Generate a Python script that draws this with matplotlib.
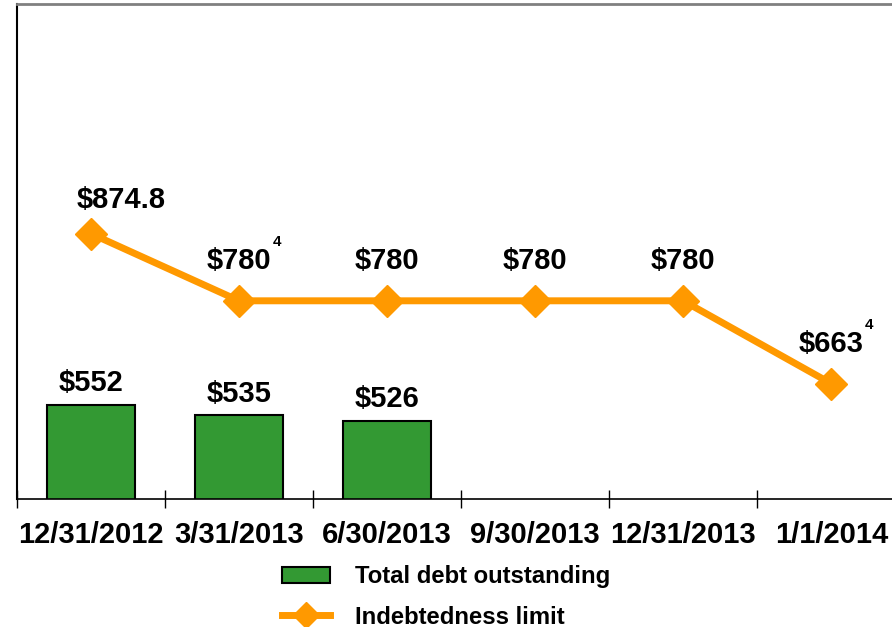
import matplotlib
matplotlib.use("Agg")
import matplotlib.pyplot as plt
from matplotlib.lines import Line2D
from matplotlib.patches import Patch

plt.rcParams['font.family'] = ['Liberation Sans', 'DejaVu Sans']
plt.rcParams['font.weight'] = 'bold'

dates = ["12/31/2012", "3/31/2013", "6/30/2013", "9/30/2013", "12/31/2013", "1/1/2014"]
debt = [552, 535, 526]
debt_labels = ["$552", "$535", "$526"]
limit = [874.8, 780, 780, 780, 780, 663]
limit_labels = ["$874.8", "$780", "$780", "$780", "$780", "$663"]
footnotes = ["", "4", "", "", "", "4"]

green = "#339933"
orange = "#FF9900"

fig = plt.figure(figsize=(8.92, 6.27), dpi=100)
ax = fig.add_axes([17 / 892, 1 - 499 / 627, 1 - 17 / 892, (499 - 3.5) / 627])
ax2 = ax.twinx()

x = list(range(len(dates)))

# bars (left scale)
ax.bar(x[:len(debt)], debt, width=0.59, color=green, edgecolor="black", linewidth=1.5, zorder=2)
for xi, v, lab in zip(x, debt, debt_labels):
    ax.annotate(lab, (xi, v), xytext=(0, 15.5), textcoords="offset points",
                ha="center", va="center", fontsize=21, fontweight="bold")
ax.set_ylim(400, 1200)
ax.set_xlim(-0.5, 5.41)

# indebtedness limit (right scale)
ax2.plot(x, limit, color=orange, linewidth=5, marker="D", markersize=16, zorder=3)
ax2.set_ylim(500, 1200)
for i, (xi, v, lab, fn) in enumerate(zip(x, limit, limit_labels, footnotes)):
    dx, dy = (22, 24) if i == 0 else (0, 28.5)
    ax2.annotate(lab, (xi, v), xytext=(dx, dy), textcoords="offset points",
                 ha="center", va="center", fontsize=21, fontweight="bold")
    if fn:
        ax2.annotate(fn, (xi, v), xytext=(27, 42), textcoords="offset points",
                     ha="center", va="center", fontsize=11, fontweight="bold")

# axes styling
for a in (ax, ax2):
    a.spines["right"].set_visible(False)
    a.set_yticks([])
ax2.spines["left"].set_visible(False)
ax2.spines["bottom"].set_visible(False)
ax2.spines["top"].set_visible(False)
ax.spines["top"].set_color("#808080")
ax.spines["top"].set_linewidth(2)
ax.spines["left"].set_linewidth(1.5)
ax.spines["bottom"].set_linewidth(1.2)

ax.set_xticks(x)
ax.set_xticklabels(dates, fontsize=21, fontweight="bold")
ax.tick_params(axis="x", which="major", length=0, pad=16)
ax.set_xticks([i - 0.5 for i in x], minor=True)
ax.tick_params(axis="x", which="minor", direction="inout", length=13, width=1)

handles = [
    Patch(facecolor=green, edgecolor="black", linewidth=1.5),
    Line2D([0], [0], color=orange, linewidth=5, marker="D", markersize=13),
]
fig.legend(handles, ["Total debt outstanding", "Indebtedness limit"],
           loc="center left", bbox_to_anchor=(0.292, 0.048), frameon=False,
           prop={"size": 17.2, "weight": "bold"}, handlelength=2.0,
           handletextpad=1.05, labelspacing=0.72)

fig.savefig("out.png", dpi=100)
